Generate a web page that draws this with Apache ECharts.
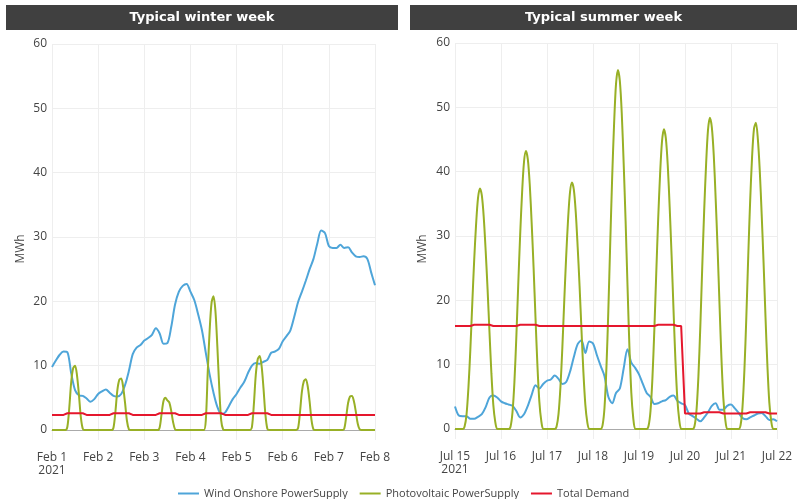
<!DOCTYPE html>
<html>
<head>
<meta charset="utf-8">
<script src="https://cdn.jsdelivr.net/npm/echarts@6/dist/echarts.min.js"></script>
<style>
  html, body { margin: 0; padding: 0; background: #fff; }
  #chart { width: 797px; height: 499px; }
</style>
</head>
<body>
<div id="chart"></div>
<script>
// x axis: hours since start of week, one tick per day
var winterTicks = ['Feb 1\n2021', 'Feb 2', 'Feb 3', 'Feb 4', 'Feb 5', 'Feb 6', 'Feb 7', 'Feb 8'];
var summerTicks = ['Jul 15\n2021', 'Jul 16', 'Jul 17', 'Jul 18', 'Jul 19', 'Jul 20', 'Jul 21', 'Jul 22'];
var seriesNames = ['Wind Onshore PowerSupply', 'Photovoltaic PowerSupply', 'Total Demand'];

// wind + demand: one value every 2 hours (12 per day)
var winterWind = [
  9.8, 10.8, 11.7, 12.2, 12.1, 8.8, 6.2, 5.4, 5.3, 4.9, 4.4, 4.8,
  5.6, 6.0, 6.3, 5.8, 5.3, 5.2, 5.6, 7.0, 9.2, 11.8, 12.8, 13.2,
  13.9, 14.3, 14.8, 15.8, 15.0, 13.4, 13.5, 16.0, 19.5, 21.5, 22.4, 22.7,
  21.5, 20.2, 18.0, 15.5, 12.0, 8.6, 5.8, 3.6, 2.5, 2.7, 3.7, 4.8,
  5.6, 6.6, 7.5, 8.9, 10.0, 10.4, 10.3, 10.6, 10.9, 12.0, 12.2, 12.6,
  13.8, 14.6, 15.5, 17.6, 19.9, 21.5, 23.2, 25.0, 26.6, 29.0, 31.0, 30.6,
  28.6, 28.3, 28.3, 28.8, 28.3, 28.4, 27.6, 27.0, 26.9, 27.0, 26.6, 24.5,
  22.5
];
var winterDemand = [
  2.35, 2.35, 2.35, 2.35, 2.6, 2.6, 2.6, 2.6, 2.6, 2.35, 2.35, 2.35,
  2.35, 2.35, 2.35, 2.35, 2.6, 2.6, 2.6, 2.6, 2.6, 2.35, 2.35, 2.35,
  2.35, 2.35, 2.35, 2.35, 2.6, 2.6, 2.6, 2.6, 2.6, 2.35, 2.35, 2.35,
  2.35, 2.35, 2.35, 2.35, 2.6, 2.6, 2.6, 2.6, 2.6, 2.35, 2.35, 2.35,
  2.35, 2.35, 2.35, 2.35, 2.6, 2.6, 2.6, 2.6, 2.6, 2.35, 2.35, 2.35,
  2.35, 2.35, 2.35, 2.35, 2.35, 2.35, 2.35, 2.35, 2.35, 2.35, 2.35, 2.35,
  2.35, 2.35, 2.35, 2.35, 2.35, 2.35, 2.35, 2.35, 2.35, 2.35, 2.35, 2.35,
  2.35
];
var summerWind = [
  3.5, 2.1, 2.0, 2.0, 1.6, 1.6, 1.9, 2.3, 3.4, 4.9, 5.2, 4.9,
  4.3, 4.0, 3.8, 3.6, 2.8, 1.8, 2.3, 3.6, 5.3, 6.8, 6.3, 7.0,
  7.5, 7.7, 8.3, 7.8, 7.0, 7.3, 8.9, 11.2, 13.2, 13.8, 11.8, 13.6,
  13.3, 11.5, 9.8, 8.2, 5.0, 4.0, 5.6, 6.3, 9.4, 12.4, 10.3, 9.5,
  8.5, 7.0, 5.6, 5.0, 3.9, 4.0, 4.3, 4.5, 5.0, 5.2, 4.4, 4.0,
  3.7, 2.4, 2.0, 1.6, 1.2, 1.8, 2.6, 3.6, 4.0, 3.0, 3.0, 3.6,
  3.8, 3.2, 2.5, 1.7, 1.5, 1.8, 2.1, 2.4, 2.5, 2.0, 1.4, 1.5,
  1.2
];
var summerDemand = [
  16.0, 16.0, 16.0, 16.0, 16.0, 16.2, 16.2, 16.2, 16.2, 16.2, 16.0, 16.0,
  16.0, 16.0, 16.0, 16.0, 16.0, 16.2, 16.2, 16.2, 16.2, 16.2, 16.0, 16.0,
  16.0, 16.0, 16.0, 16.0, 16.0, 16.0, 16.0, 16.0, 16.0, 16.0, 16.0, 16.0,
  16.0, 16.0, 16.0, 16.0, 16.0, 16.0, 16.0, 16.0, 16.0, 16.0, 16.0, 16.0,
  16.0, 16.0, 16.0, 16.0, 16.0, 16.2, 16.2, 16.2, 16.2, 16.2, 16.0, 16.0,
  2.4, 2.4, 2.4, 2.4, 2.4, 2.6, 2.6, 2.6, 2.6, 2.6, 2.4, 2.4,
  2.4, 2.4, 2.4, 2.4, 2.4, 2.6, 2.6, 2.6, 2.6, 2.6, 2.4, 2.4,
  2.4
];

// photovoltaic: hourly (24 per day)
var winterPv = [
  0, 0, 0, 0, 0, 0, 0, 0, 0.5, 3.5, 7.5, 9.6, 10.0, 8.5, 5.5, 2.0, 0.2, 0, 0, 0, 0, 0, 0, 0,
  0, 0, 0, 0, 0, 0, 0, 0, 0.4, 2.9, 6.2, 7.8, 8.0, 6.7, 4.2, 1.4, 0.1, 0, 0, 0, 0, 0, 0, 0,
  0, 0, 0, 0, 0, 0, 0, 0, 0.4, 2.5, 4.5, 5.0, 4.6, 4.3, 3.0, 1.2, 0.1, 0, 0, 0, 0, 0, 0, 0,
  0, 0, 0, 0, 0, 0, 0, 0, 1.5, 9.0, 15.5, 19.8, 20.8, 18.5, 13.0, 6.5, 1.5, 0.1, 0, 0, 0, 0, 0, 0,
  0, 0, 0, 0, 0, 0, 0, 0, 0.5, 4.0, 8.6, 11.0, 11.5, 10.0, 6.5, 2.4, 0.2, 0, 0, 0, 0, 0, 0, 0,
  0, 0, 0, 0, 0, 0, 0, 0, 0.3, 2.8, 6.0, 7.6, 7.9, 6.8, 4.4, 1.5, 0.1, 0, 0, 0, 0, 0, 0, 0,
  0, 0, 0, 0, 0, 0, 0, 0, 0.2, 2.0, 4.2, 5.2, 5.3, 4.5, 2.9, 1.0, 0.1, 0, 0, 0, 0, 0, 0, 0,
  0
];
var summerPv = [
  0, 0, 0, 0, 0, 0.4, 2.2, 6.4, 12.3, 19.4, 26.2, 31.8, 35.9, 37.4, 36.3, 32.9, 27.7, 21.7, 15.0, 8.6, 3.7, 1.1, 0, 0,
  0, 0, 0, 0, 0, 0.4, 2.6, 7.3, 14.3, 22.5, 30.2, 36.7, 41.5, 43.2, 41.9, 38.0, 32.0, 25.1, 17.3, 9.9, 4.3, 1.3, 0, 0,
  0, 0, 0, 0, 0, 0.4, 2.3, 6.5, 12.6, 19.9, 26.8, 32.6, 36.8, 38.3, 37.2, 33.7, 28.3, 22.2, 15.3, 8.8, 3.8, 1.1, 0, 0,
  0, 0, 0, 0, 0, 0.6, 3.3, 9.5, 18.4, 29.0, 39.1, 47.4, 53.6, 55.8, 54.1, 49.1, 41.3, 32.4, 22.3, 12.8, 5.6, 1.7, 0, 0,
  0, 0, 0, 0, 0, 0.5, 2.8, 7.9, 15.4, 24.2, 32.6, 39.6, 44.7, 46.6, 45.2, 41.0, 34.5, 27.0, 18.6, 10.7, 4.7, 1.4, 0, 0,
  0, 0, 0, 0, 0, 0.5, 2.9, 8.2, 16.0, 25.2, 33.9, 41.1, 46.5, 48.4, 46.9, 42.6, 35.8, 28.1, 19.4, 11.1, 4.8, 1.5, 0, 0,
  0, 0, 0, 0, 0, 0.6, 3.4, 9.2, 17.4, 26.9, 35.5, 42.3, 46.7, 47.6, 45.1, 40.2, 33.4, 25.8, 17.4, 9.8, 4.1, 1.2, 0, 0,
  0
];

var colors = ['#4ea5d9', '#98b026', '#e5172d'];
var font = 'Open Sans';

function toPairs(values, stepHours) {
  return values.map(function (v, i) { return [i * stepHours, v]; });
}

function xAxisFor(gridIndex, ticks) {
  return {
    type: 'value', gridIndex: gridIndex, min: 0, max: 168, interval: 24,
    axisLine: { show: true, onZero: false, lineStyle: { color: '#aaa', width: 1 } },
    axisTick: { show: true, length: 10, lineStyle: { color: '#eee' } },
    splitLine: { show: true, lineStyle: { color: '#eee' } },
    axisLabel: {
      color: '#444', fontSize: 12, fontFamily: font, margin: 21, lineHeight: 13,
      formatter: function (v) { return ticks[Math.round(v / 24)]; }
    }
  };
}

function yAxisFor(gridIndex) {
  return {
    type: 'value', gridIndex: gridIndex, min: 0, max: 60, interval: 10,
    axisLine: { show: false }, axisTick: { show: false },
    splitLine: { lineStyle: { color: '#eee' } },
    axisLabel: { color: '#444', fontSize: 12, fontFamily: font, margin: 5 }
  };
}

function line(name, idx, data, step, smooth) {
  return {
    name: name, type: 'line', xAxisIndex: idx, yAxisIndex: idx,
    data: toPairs(data, step), showSymbol: false, symbol: 'none',
    smooth: smooth, lineStyle: { width: 2 }, color: colors[seriesNames.indexOf(name)]
  };
}

function titleBar(x, w, text) {
  return {
    type: 'group', left: x, top: 5,
    children: [
      { type: 'rect', shape: { x: 0, y: 0, width: w, height: 25 }, style: { fill: '#404040' } },
      { type: 'text', x: w / 2, y: 13, style: {
        text: text, fill: '#fff', font: 'bold 13px "DejaVu Sans"', textAlign: 'center', textVerticalAlign: 'middle'
      } }
    ]
  };
}

function yTitle(x, y) {
  return {
    type: 'text', x: x, y: y, rotation: Math.PI / 2,
    style: { text: 'MWh', fill: '#444', font: '12px "Open Sans"', textAlign: 'center', textVerticalAlign: 'middle' }
  };
}

var chart = echarts.init(document.getElementById('chart'));
chart.setOption({
  animation: false,
  color: colors,
  grid: [
    { left: 52, top: 44, width: 323, height: 386 },
    { left: 455, top: 43, width: 322, height: 386 }
  ],
  xAxis: [xAxisFor(0, winterTicks), xAxisFor(1, summerTicks)],
  yAxis: [yAxisFor(0), yAxisFor(1)],
  legend: {
    data: seriesNames, left: 173, top: 483, icon: 'rect',
    itemWidth: 21, itemHeight: 2, itemGap: 12,
    textStyle: { color: '#444', fontSize: 11, fontFamily: font }
  },
  graphic: [
    titleBar(6, 392, 'Typical winter week'),
    titleBar(410, 387, 'Typical summer week'),
    yTitle(21, 249),
    yTitle(423, 249)
  ],
  series: [
    line(seriesNames[0], 0, winterWind, 2, 0.3),
    line(seriesNames[1], 0, winterPv, 1, 0.3),
    line(seriesNames[2], 0, winterDemand, 2, false),
    line(seriesNames[0], 1, summerWind, 2, 0.3),
    line(seriesNames[1], 1, summerPv, 1, 0.3),
    line(seriesNames[2], 1, summerDemand, 2, false)
  ]
});
</script>
</body>
</html>
